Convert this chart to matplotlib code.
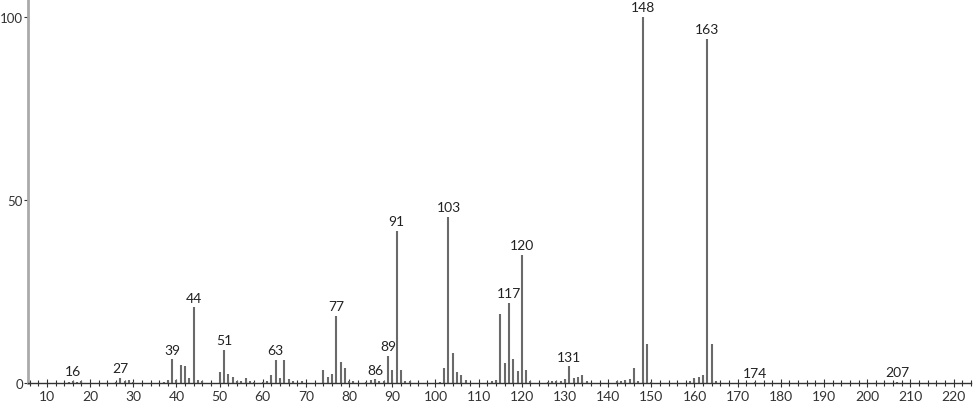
import matplotlib.pyplot as plt
from matplotlib.ticker import MultipleLocator

# m/z values and relative intensities
mz = [15, 16, 17, 18, 26, 27, 28, 29, 30, 37, 38, 39, 40, 41, 42, 43, 44, 45, 46,
      50, 51, 52, 53, 54, 55, 56, 57, 58, 60, 61, 62, 63, 64, 65, 66, 67, 69,
      74, 75, 76, 77, 78, 79, 80, 81, 84, 85, 86, 87, 88, 89, 90, 91, 92, 93, 94,
      101, 102, 103, 104, 105, 106, 107, 113, 114, 115, 116, 117, 118, 119, 120, 121, 122,
      126, 127, 128, 129, 130, 131, 132, 133, 134, 135,
      142, 143, 144, 145, 146, 147, 148, 149, 150,
      159, 160, 161, 162, 163, 164, 165, 174, 207]
intensity = [0.3, 0.6, 0.4, 0.5, 0.4, 1.5, 0.6, 0.8, 0.4, 0.3, 0.8, 6.5, 0.8, 4.9, 4.7, 1.4, 20.7, 0.8, 0.5,
             3.0, 9.0, 2.5, 1.7, 0.6, 0.5, 1.4, 0.5, 0.3, 0.3, 0.5, 2.2, 6.3, 1.4, 6.3, 1.2, 0.5, 0.5,
             3.6, 1.7, 2.4, 18.4, 5.7, 4.1, 0.5, 0.5, 0.3, 0.8, 1.0, 0.7, 0.6, 7.4, 3.6, 41.5, 3.6, 0.6, 0.6,
             0.4, 4.0, 45.4, 8.2, 3.0, 2.2, 0.8, 0.5, 0.9, 19.0, 5.5, 21.9, 6.6, 3.3, 35.0, 3.5, 0.5,
             0.3, 0.5, 0.7, 0.5, 1.0, 4.6, 1.3, 1.7, 2.2, 0.6,
             0.6, 0.6, 0.8, 1.2, 4.1, 0.6, 100.0, 10.6, 0.4,
             0.5, 1.4, 1.7, 2.2, 94.0, 10.6, 0.6, 0.2, 0.3]
labeled = [16, 27, 39, 44, 51, 63, 77, 86, 89, 91, 103, 117, 120, 131, 148, 163, 174, 207]

fig = plt.figure(figsize=(9.74, 4.06), dpi=100)
ax = fig.add_axes([0.0287, 0.054, 0.968, 0.946])

ax.vlines(mz, 0, intensity, color='#6a6a6a', linewidth=1.5)
for m, i in zip(mz, intensity):
    if m in labeled:
        ax.text(m, i + 1.0, str(m), ha='center', va='bottom', fontsize=10,
                family='Lato', color='#222222')

ax.set_xlim(5.6, 224)
ax.set_ylim(0, 104.9)
ax.set_yticks([0, 50, 100])
ax.xaxis.set_major_locator(MultipleLocator(10))
ax.xaxis.set_minor_locator(MultipleLocator(2))
ax.set_xticks(range(10, 221, 10))

for s in ['top', 'right']:
    ax.spines[s].set_visible(False)
ax.spines['left'].set_color('#aaaaaa')
ax.spines['left'].set_linewidth(2)
ax.spines['bottom'].set_color('#333333')
ax.spines['bottom'].set_linewidth(1)

ax.tick_params(axis='x', which='major', direction='inout', length=6, width=0.8,
               labelsize=10, pad=2, colors='#333333')
ax.tick_params(axis='x', which='minor', direction='inout', length=4, width=0.8, colors='#333333')
ax.tick_params(axis='y', which='major', direction='out', length=3, width=0.8,
               labelsize=9.5, pad=0.5, colors='#333333')
for lbl in ax.get_xticklabels() + ax.get_yticklabels():
    lbl.set_family('Lato')

fig.savefig('out.png', dpi=100)
